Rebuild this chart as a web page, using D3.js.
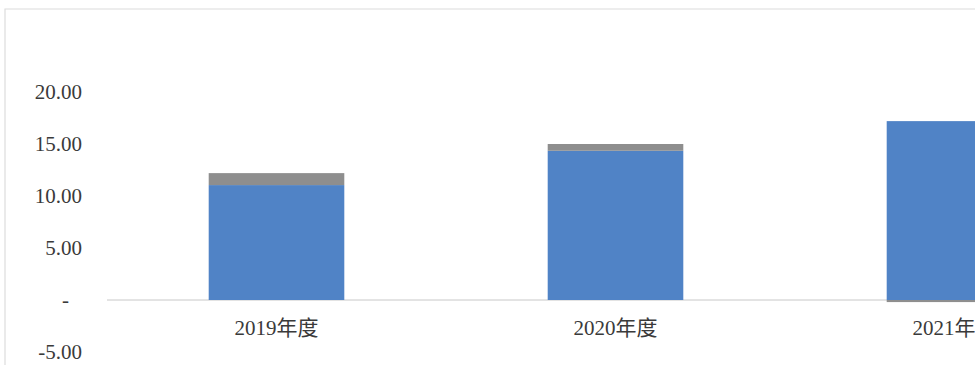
<!DOCTYPE html>
<html>
<head>
<meta charset="utf-8">
<script src="https://cdn.jsdelivr.net/npm/d3@7"></script>
<style>
  body { margin: 0; background: #fff; }
  svg { display: block; }
  .tick text { font-family: "Liberation Serif", "Noto Sans CJK SC", serif; fill: #3a3a3a; }
</style>
</head>
<body>
<div class="chart"></div>
<script>
const categories = ['2019年度', '2020年度', '2021年度']
const mainValues = [11.05, 14.35, 17.2]
const topValues = [1.15, 0.65, -0.2]
const yTicks = [-5, 0, 5, 10, 15, 20]

const width = 975, height = 365

const svg = d3.select('.chart')
  .append('svg')
  .attr('width', width)
  .attr('height', height)

// faint frame of the scanned page
svg.append('path')
  .attr('d', 'M5,' + height + 'V9H' + width)
  .attr('fill', 'none')
  .attr('stroke', '#dcdcdc')
  .attr('stroke-width', 1.2)

let rows = categories.map((c, i) => ({ cat: c, main: mainValues[i], top: topValues[i] }))

let stack = d3.stack()
  .keys(['main', 'top'])
  .offset(d3.stackOffsetDiverging)

let series = stack(rows)

// plot runs past the right edge, 2021 is cut off like the reference
let x = d3.scaleBand()
  .domain(categories)
  .range([107, 107 + 339 * 3])
  .paddingInner(0.6)
  .paddingOuter(0.3)

let y = d3.scaleLinear()
  .domain([-5, 25])
  .range([352, 40])

const colors = { main: '#5083c6', top: '#8e8e8e' }

// hyphen minus, as in the reference
const fmt = d3.formatLocale({ decimal: '.', thousands: ',', grouping: [3], currency: ['', ''], minus: '-' }).format('.2f')

// zero line
svg.append('line')
  .attr('x1', x.range()[0])
  .attr('x2', x.range()[1])
  .attr('y1', y(0))
  .attr('y2', y(0))
  .attr('stroke', '#c8c8c8')
  .attr('stroke-width', 1)

svg.selectAll('g.series')
  .data(series)
  .enter()
  .append('g')
  .attr('class', 'series')
  .attr('fill', d => colors[d.key])
  .selectAll('rect')
  .data(d => d)
  .enter()
  .append('rect')
  .attr('x', d => x(d.data.cat))
  .attr('width', x.bandwidth())
  .attr('y', d => y(d[1]))
  .attr('height', d => y(d[0]) - y(d[1]))

let yAxis = svg.append('g')
  .attr('transform', 'translate(82,0)')
  .call(d3.axisLeft(y)
    .tickValues(yTicks)
    .tickSize(0)
    .tickPadding(0)
    .tickFormat(d => d === 0 ? '-' : fmt(d)))

yAxis.select('.domain').remove()
yAxis.selectAll('text')
  .attr('font-size', 21)
  .attr('dx', d => d === 0 ? -13 : 0)

let xAxis = svg.append('g')
  .attr('transform', 'translate(0,' + y(0) + ')')
  .call(d3.axisBottom(x).tickSize(0).tickPadding(20))

xAxis.select('.domain').remove()
xAxis.selectAll('text')
  .attr('font-size', 21)
</script>
</body>
</html>
